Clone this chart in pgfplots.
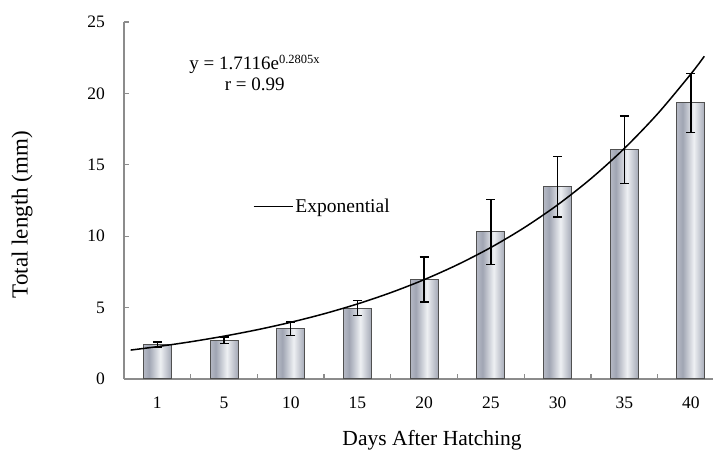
\documentclass[border=0pt]{standalone}
\usepackage{fontspec}
\setmainfont{Liberation Serif}
\usepackage{pgfplots}
\pgfplotsset{compat=1.18}
\definecolor{bdark}{HTML}{737A8C}
\definecolor{bmid}{HTML}{A0A5B3}
\definecolor{blight}{HTML}{CDD0D9}
\definecolor{bwhite}{HTML}{EEF0F3}
\definecolor{axgray}{HTML}{8C8C8C}
\definecolor{bedge}{HTML}{505050}
\pgfdeclarehorizontalshading{barshade}{100bp}{color(0bp)=(bdark); color(14bp)=(blight); color(35bp)=(bmid); color(55bp)=(bwhite); color(76bp)=(bmid); color(100bp)=(bdark)}
\pgfplotsset{mybar/.style={ybar, bar width=0.42, bar shift=0pt, shading=barshade, draw=bedge, line width=1pt, forget plot,
  error bars/.cd, y dir=both, y explicit,
  error bar style={line width=1.4pt, black},
  error mark options={rotate=90, mark size=4.5pt, line width=1.4pt, black}}}
\begin{document}
\begin{tikzpicture}
\path[use as bounding box] (-124pt,-75pt) rectangle (589pt,379pt);
\begin{axis}[
  at={(0pt,0pt)}, anchor=south west,
  scale only axis, width=589pt, height=357pt,
  xmin=0.5, xmax=9.33, ymin=0, ymax=25,
  axis x line*=bottom, axis y line*=left,
  axis line style={axgray, line width=1.3pt},
  xtick={1,2,3,4,5,6,7,8,9},
  xticklabels={1,5,10,15,20,25,30,35,40},
  major x tick style={draw=none},
  minor xtick={1.5,2.5,3.5,4.5,5.5,6.5,7.5,8.5},
  minor x tick style={axgray, line width=1.3pt},
  minor tick length=5pt,
  ytick={0,5,10,15,20,25},
  major y tick style={axgray, line width=1.3pt},
  major tick length=5pt,
  tick align=inside,
  /pgf/number format/assume math mode=true,
  ticklabel style={font=\fontsize{17.5}{19}\selectfont, inner sep=0pt},
  xticklabel style={anchor=center, yshift=-23.5pt},
  yticklabel style={anchor=east, xshift=-19pt},
  xlabel={Days After Hatching},
  ylabel={Total length (mm)},
  xlabel style={font=\fontsize{21.5}{24}\selectfont, at={(axis description cs:0.523,-0.171)}, anchor=center},
  ylabel style={font=\fontsize{23}{26}\selectfont, at={(axis description cs:-0.173,0.46)}, anchor=center},
  clip=false,
  legend style={at={(axis cs:2.43,12.07)}, anchor=west, draw=none, fill=none, inner sep=0pt, font=\fontsize{19.5}{21}\selectfont, nodes={inner sep=2pt}},
  legend image code/.code={\draw[#1] (0pt,0pt) -- (39pt,0pt);},
]
\addplot[mybar] coordinates {(1,2.40) +- (0,0.20)};
\addplot[mybar] coordinates {(2,2.70) +- (0,0.23)};
\addplot[mybar] coordinates {(3,3.52) +- (0,0.47)};
\addplot[mybar] coordinates {(4,4.97) +- (0,0.53)};
\addplot[mybar] coordinates {(5,6.97) +- (0,1.58)};
\addplot[mybar] coordinates {(6,10.30) +- (0,2.27)};
\addplot[mybar] coordinates {(7,13.47) +- (0,2.13)};
\addplot[mybar] coordinates {(8,16.05) +- (0,2.37)};
\addplot[mybar] coordinates {(9,19.33) +- (0,2.07)};
\addplot[black, line width=1.5pt, smooth] coordinates {
  (0.6,2.025) (1.0,2.266) (1.5,2.607) (2.0,3.000) (2.5,3.451) (3.0,3.971)
  (3.5,4.568) (4.0,5.256) (4.5,6.048) (5.0,6.958) (5.5,8.006) (6.0,9.211)
  (6.5,10.598) (7.0,12.194) (7.5,14.030) (8.0,16.142) (8.5,18.573) (9.0,21.369) (9.2,22.601)
};
\addlegendentry{Exponential}
\node[align=center, font=\fontsize{19}{21}\selectfont, inner sep=0pt] at (axis cs:2.46,21.43)
  {y = 1.7116e\textsuperscript{\fontsize{12.5}{12.5}\selectfont 0.2805x}\\ r = 0.99};
\end{axis}
\end{tikzpicture}
\end{document}
